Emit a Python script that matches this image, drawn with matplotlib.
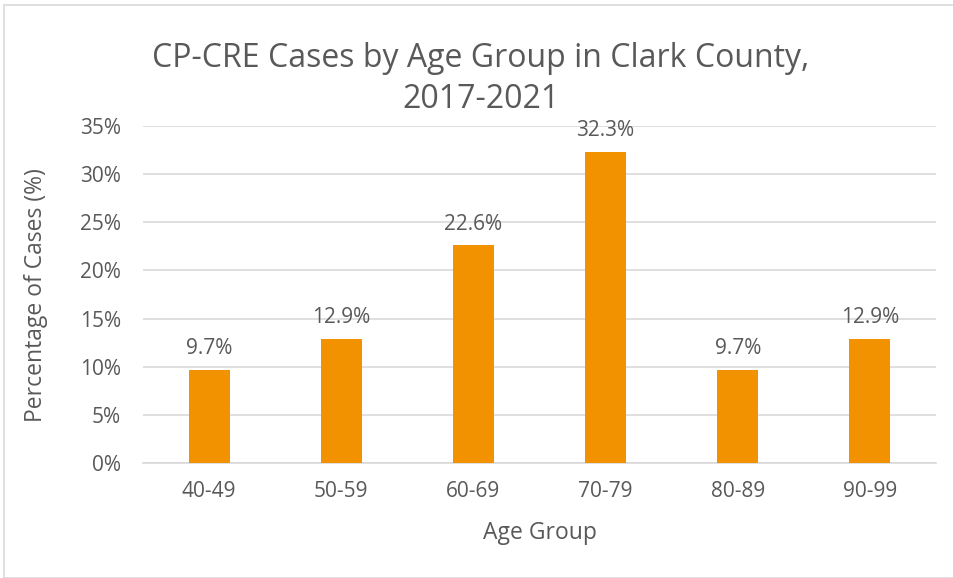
import matplotlib
matplotlib.use("Agg")
import matplotlib.pyplot as plt
from matplotlib.patches import Rectangle
from matplotlib.ticker import FuncFormatter, MultipleLocator

categories = ["40-49", "50-59", "60-69", "70-79", "80-89", "90-99"]
values = [9.7, 12.9, 22.6, 32.3, 9.7, 12.9]
value_labels = ["9.7%", "12.9%", "22.6%", "32.3%", "9.7%", "12.9%"]

plt.rcParams['font.family'] = ['Open Sans', 'DejaVu Sans']
TXT = "#595959"
BAR = "#F39200"

fig = plt.figure(figsize=(9.54, 5.78), dpi=100)
fig.patches.append(Rectangle((4/954, 0.0), 1.0, 1 - 5/578, transform=fig.transFigure,
                             fill=False, edgecolor="#D9D9D9", linewidth=1.2))
ax = fig.add_axes([143/954, 1 - 463/578, (936 - 143)/954, (463 - 126)/578])

x = range(len(categories))
ax.bar(x, values, width=0.31, color=BAR, zorder=3)
for xi, v, lab in zip(x, values, value_labels):
    ax.text(xi, v + 1.1, lab, ha="center", va="bottom", fontsize=15, color=TXT)

ax.set_xlim(-0.5, len(categories) - 0.5)
ax.set_ylim(0, 35)
ax.yaxis.set_major_locator(MultipleLocator(5))
ax.yaxis.set_major_formatter(FuncFormatter(lambda v, p: f"{v:.0f}%"))
ax.set_xticks(list(x))
ax.set_xticklabels(categories)
ax.tick_params(axis="both", length=0, labelsize=15, labelcolor=TXT)
ax.tick_params(axis="y", pad=16)
ax.tick_params(axis="x", pad=13)
ax.grid(axis="y", color="#D9D9D9", linewidth=1.2, zorder=0)
for s in ["top", "right", "left"]:
    ax.spines[s].set_visible(False)
ax.spines["bottom"].set_color("#D9D9D9")
ax.spines["bottom"].set_linewidth(1.2)

fig.text(540/954, 1 - 533/578, "Age Group", ha="center", va="center", fontsize=16.5, color=TXT)
fig.text(36/954, 1 - 295/578, "Percentage of Cases (%)", ha="center", va="center",
         rotation=90, fontsize=16.5, color=TXT)
fig.text(481/954, 1 - 79/578, "CP-CRE Cases by Age Group in Clark County,\n2017-2021",
         ha="center", va="center", fontsize=23, color=TXT, linespacing=1.33)

fig.savefig("out.png", dpi=100)
